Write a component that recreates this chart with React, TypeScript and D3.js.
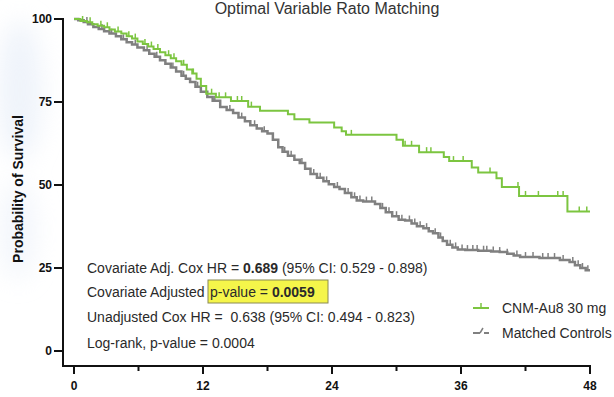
import React from "react";
import * as d3 from "d3";

// Kaplan–Meier step points: [month, survival %]
const treatedSteps: [number, number][] = [
  [0, 100], [0.6, 99.4], [1.2, 99], [1.7, 98.4], [2.2, 98], [2.8, 97.5], [3.3, 96.8],
  [3.8, 96.2], [4.4, 95.6], [4.9, 94.8], [5.4, 94.1], [5.9, 93.2], [6.4, 92.5],
  [6.9, 91.7], [7.4, 91], [8, 90], [8.5, 89.1], [9, 88.2], [9.5, 87.3], [10, 86.2],
  [10.5, 84.8], [11, 83.6], [11.4, 82], [11.8, 79.8], [12.3, 77.5], [13.2, 76.4],
  [14.6, 75.3], [16.2, 73.6], [17.3, 72.4], [19.9, 71.3], [20.5, 69.8], [21.9, 68.8],
  [24.2, 67.3], [24.9, 66.2], [25.3, 65.1], [30, 63.6], [30.6, 61.8], [32.1, 59.9],
  [34.4, 58.4], [34.9, 57.2], [37, 55.3], [37.6, 53.8], [39.3, 52], [39.8, 49.4],
  [41.4, 46.7], [45.9, 42],
];
const treatedCensored: number[] = [
  0.8, 1.5, 2.5, 3.1, 4.1, 5.1, 5.7, 6.6, 7.2, 7.8, 8.8, 9.3, 10.2, 11.1, 12.8, 13.5,
  14.1, 15.2, 15.6, 16.5, 25.8, 30.8, 31.4, 32.8, 33.2, 35.3, 36.2, 38.7, 41.3, 42,
  43.2, 45, 45.5, 47, 47.7,
];

const controlSteps: [number, number][] = [
  [0, 100], [0.4, 99.6], [0.9, 99.1], [1.3, 98.4], [1.8, 97.6], [2.3, 97], [2.8, 96.3],
  [3.3, 95.6], [3.9, 94.8], [4.4, 93.9], [4.9, 93], [5.4, 92.3], [5.9, 91.4], [6.5, 90.6],
  [7, 89.5], [7.5, 88.6], [8, 87.6], [8.5, 86.5], [9, 85.4], [9.5, 84.2], [10, 82.9],
  [10.4, 82], [10.8, 81], [11.3, 79.6], [11.8, 78.1], [12.4, 76.5], [12.9, 75.4],
  [13.6, 73.5], [14.2, 72.6], [14.8, 71.7], [15.3, 70.3], [15.9, 69.2], [16.4, 68],
  [17, 67], [17.5, 66.2], [18, 65.5], [18.5, 63.6], [19, 61.4], [19.4, 60], [19.9, 58.8],
  [20.5, 57.6], [21, 56.6], [21.5, 54.9], [22, 53.3], [22.6, 52.2], [23.2, 51.1],
  [23.7, 50.2], [24.2, 49.4], [24.7, 48.8], [25.2, 47.6], [25.8, 46.3], [26.3, 45.3],
  [26.9, 45], [27.5, 45], [28, 44.3], [28.5, 43.1], [29, 41.8], [29.6, 40.6], [30.2, 39.5],
  [30.8, 39.3], [31.4, 38.4], [31.9, 37.6], [32.5, 37], [33, 36.1], [33.4, 35.5],
  [33.9, 34.2], [34.3, 33.1], [34.7, 32], [35.2, 31.2], [35.7, 30.6], [36.4, 30.4],
  [37.6, 30.2], [38.8, 30], [39.6, 29.8], [40.3, 29.3], [40.9, 28.8], [41.5, 28.3],
  [42.5, 28.3], [43.3, 28], [44.5, 28], [45.2, 27.4], [46.1, 26.8], [46.6, 25.8],
  [47.1, 25], [47.6, 24.3],
];
const controlCensored: number[] = [
  1.2, 2.6, 3.5, 4.6, 5.7, 6.8, 7.7, 9.2, 10.2, 11.5, 13.1, 14.5, 15.6, 16.8, 17.7, 19.6,
  20.2, 21.2, 22.3, 22.9, 23.5, 24.5, 25.5, 26.1, 26.6, 27.2, 27.7, 28.7, 29.3, 30, 30.5,
  31.2, 31.7, 32.2, 32.8, 33.6, 34.1, 35, 35.5, 36.1, 36.6, 37.1, 37.5, 38.1, 38.4, 39,
  39.6, 40.3, 41.2, 42, 42.7, 43.6, 44.1, 44.7, 45.5, 46.4, 46.9, 47.3, 47.8,
];

const followUpEnd = 48;
const xTicks = [0, 12, 24, 36, 48];
const xMinorTicks = [6, 18, 30, 42];
const yTicks = [0, 25, 50, 75, 100];

const title = "Optimal Variable Rato Matching";
const yLabel = "Probability of Survival";
const seriesNames = ["CNM-Au8 30 mg", "Matched Controls"];

const GREEN = "#7cc540";
const GRAY = "#808080";
const TEXT = "#2a2a2a";
const FONT = "'Liberation Sans', Arial, Helvetica, sans-serif";

const x = d3.scaleLinear().domain([0, 48]).range([74, 590]);
const y = d3.scaleLinear().domain([0, 100]).range([351, 19]);

function survivalAt(steps: [number, number][], t: number): number {
  let v = steps[0][1];
  for (const [st, sv] of steps) {
    if (st <= t) v = sv;
    else break;
  }
  return v;
}

const stepLine = d3
  .line<[number, number]>()
  .x((d) => x(d[0]))
  .y((d) => y(d[1]))
  .curve(d3.curveStepAfter);

function Curve({
  steps,
  censored,
  color,
  width,
}: {
  steps: [number, number][];
  censored: number[];
  color: string;
  width: number;
}) {
  const pts: [number, number][] = [
    ...steps,
    [followUpEnd, steps[steps.length - 1][1]],
  ];
  return (
    <g>
      <path d={stepLine(pts) ?? ""} fill="none" stroke={color} strokeWidth={width} />
      {censored.map((t, i) => {
        const cy = y(survivalAt(steps, t));
        return (
          <line
            key={i}
            x1={x(t)}
            x2={x(t)}
            y1={cy}
            y2={cy - 5}
            stroke={color}
            strokeWidth={1.5}
          />
        );
      })}
    </g>
  );
}

export default function App() {
  const axisY = 366;
  const axisX = 63;
  return (
    <svg
      width={614}
      height={397}
      style={{ position: "absolute", left: 0, top: 0, background: "#fff" }}
      fontFamily={FONT}
    >
      <defs>
        <filter id="haze" x="-50%" y="-50%" width="200%" height="200%">
          <feGaussianBlur stdDeviation="12" />
        </filter>
      </defs>
      <rect width={614} height={397} fill="#fff" />
      {/* faint bluish wash along the left margin */}
      <g filter="url(#haze)" opacity={0.5}>
        <ellipse cx={20} cy={90} rx={22} ry={70} fill="#dfe8f6" />
        <ellipse cx={18} cy={230} rx={18} ry={50} fill="#e6edf8" />
      </g>

      <text x={327} y={14} textAnchor="middle" fontSize={16} fill="#333">
        {title}
      </text>

      {/* axes */}
      <g stroke="#111" strokeWidth={2}>
        <line x1={axisX} x2={axisX} y1={y(100) - 1} y2={axisY + 1} />
        <line x1={axisX} x2={x(48) + 1} y1={axisY} y2={axisY} />
        {yTicks.map((v) => (
          <line key={v} x1={axisX - 9} x2={axisX} y1={y(v)} y2={y(v)} />
        ))}
        {xTicks.map((t) => (
          <line key={t} x1={x(t)} x2={x(t)} y1={axisY} y2={axisY + 8} />
        ))}
        {xMinorTicks.map((t) => (
          <line key={t} x1={x(t)} x2={x(t)} y1={axisY} y2={axisY + 5} />
        ))}
      </g>
      <g fontSize={12} fontWeight="bold" fill="#111">
        {yTicks.map((v) => (
          <text key={v} x={axisX - 11} y={y(v) + 4} textAnchor="end">
            {v}
          </text>
        ))}
        {xTicks.map((t) => (
          <text key={t} x={x(t)} y={390} textAnchor="middle">
            {t}
          </text>
        ))}
      </g>
      <text
        transform={`translate(23,${189}) rotate(-90)`}
        textAnchor="middle"
        fontSize={14}
        fontWeight="bold"
        fill="#111"
      >
        {yLabel}
      </text>

      <Curve steps={controlSteps} censored={controlCensored} color={GRAY} width={2.5} />
      <Curve steps={treatedSteps} censored={treatedCensored} color={GREEN} width={2} />

      {/* statistics */}
      <g fontSize={14} fill={TEXT}>
        <text x={87} y={273}>
          Covariate Adj. Cox HR = <tspan fontWeight="bold">0.689</tspan> (95% CI: 0.529 - 0.898)
        </text>
        <rect x={208} y={280} width={120} height={23} fill="#f5f54a" stroke="#8a8a55" strokeWidth={1} />
        <text x={87} y={297}>
          Covariate Adjusted <tspan x={210}>p-value = </tspan>
          <tspan fontWeight="bold">0.0059</tspan>
        </text>
        <text x={87} y={322}>
          Unadjusted Cox HR = {"\u00a0"}0.638 (95% CI: 0.494 - 0.823)
        </text>
        <text x={87} y={348}>
          Log-rank, p-value = 0.0004
        </text>
      </g>

      {/* legend */}
      <g>
        <line x1={473} x2={489} y1={308} y2={308} stroke={GREEN} strokeWidth={2} />
        <line x1={481} x2={481} y1={308} y2={303} stroke={GREEN} strokeWidth={1.5} />
        <line x1={473} x2={480} y1={333} y2={333} stroke={GRAY} strokeWidth={2} />
        <line x1={480} x2={483} y1={333} y2={328} stroke={GRAY} strokeWidth={1.5} />
        <line x1={484} x2={489} y1={333} y2={333} stroke={GRAY} strokeWidth={2} />
        <text x={502} y={313} fontSize={14} fill={TEXT}>
          {seriesNames[0]}
        </text>
        <text x={502} y={338} fontSize={14} fill={TEXT}>
          {seriesNames[1]}
        </text>
      </g>
    </svg>
  );
}
